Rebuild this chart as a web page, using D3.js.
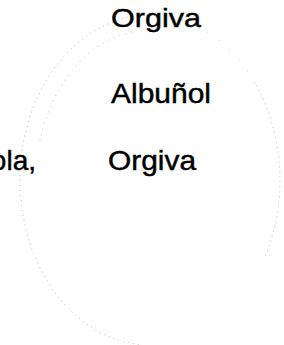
<!DOCTYPE html>
<html>
<head>
<meta charset="utf-8">
<script src="https://cdn.jsdelivr.net/npm/d3@7"></script>
<style>
  body { margin: 0; background: #fff; }
  text { font-family: "Liberation Sans", Arial, sans-serif; fill: #000; stroke: #000; stroke-width: 0.45; }
</style>
</head>
<body>
<svg id="chart" width="284" height="345"></svg>
<script>
// words on the scan
var lines = ["Orgiva", "Albuñol", "Orgiva"];
var leftWord = ["ola,"];
// stamp ring arcs (degrees, clockwise from top)
var outerArcs = [[185, 362], [55, 118]];
var sparseArcs = [[2, 55]];
var innerArcs = [[285, 352]];

var svg = d3.select("#chart");
var width = +svg.attr("width"), height = +svg.attr("height");

var cx = 150, cy = 180;
var rad = d3.scaleLinear().domain([0, 360]).range([0, 2 * Math.PI]);

function ring(rx, ry) {
	return d3.line()
		.x(function(a) { return cx + rx * Math.sin(rad(a)); })
		.y(function(a) { return cy - ry * Math.cos(rad(a)); });
}

var stamp = svg.append("g").attr("class", "stamp")
	.attr("fill", "none")
	.attr("stroke", "#888");

stamp.selectAll(".outer")
	.data(outerArcs)
	.enter().append("path")
	.attr("class", "outer")
	.attr("d", function(d) { return ring(130, 165)(d3.range(d[0], d[1], 0.5)); })
	.attr("stroke-width", 1)
	.attr("stroke-dasharray", "1 4")
	.attr("opacity", 0.6);

stamp.selectAll(".sparse")
	.data(sparseArcs)
	.enter().append("path")
	.attr("class", "sparse")
	.attr("d", function(d) { return ring(130, 165)(d3.range(d[0], d[1], 0.5)); })
	.attr("stroke-width", 1)
	.attr("stroke-dasharray", "1 13")
	.attr("opacity", 0.5);

stamp.selectAll(".inner")
	.data(innerArcs)
	.enter().append("path")
	.attr("class", "inner")
	.attr("d", function(d) { return ring(114, 150)(d3.range(d[0], d[1], 0.5)); })
	.attr("stroke-width", 1)
	.attr("stroke-dasharray", "1 5")
	.attr("opacity", 0.5);

// text rows
var rows = [
	{ y: 27, size: 26, len: 90 },
	{ y: 103, size: 28, len: 100 },
	{ y: 170, size: 28, len: 88 }
];

svg.selectAll(".word")
	.data(lines)
	.enter().append("text")
	.attr("class", "word")
	.attr("x", function(d, i) { return i === 2 ? 108 : 111; })
	.attr("y", function(d, i) { return rows[i].y; })
	.attr("font-size", function(d, i) { return rows[i].size; })
	.attr("textLength", function(d, i) { return rows[i].len; })
	.attr("lengthAdjust", "spacingAndGlyphs")
	.text(function(d) { return d; });

svg.selectAll(".left")
	.data(leftWord)
	.enter().append("text")
	.attr("class", "left")
	.attr("x", 36)
	.attr("y", 170)
	.attr("font-size", 28)
	.attr("text-anchor", "end")
	.text(function(d) { return d; });
</script>
</body>
</html>
